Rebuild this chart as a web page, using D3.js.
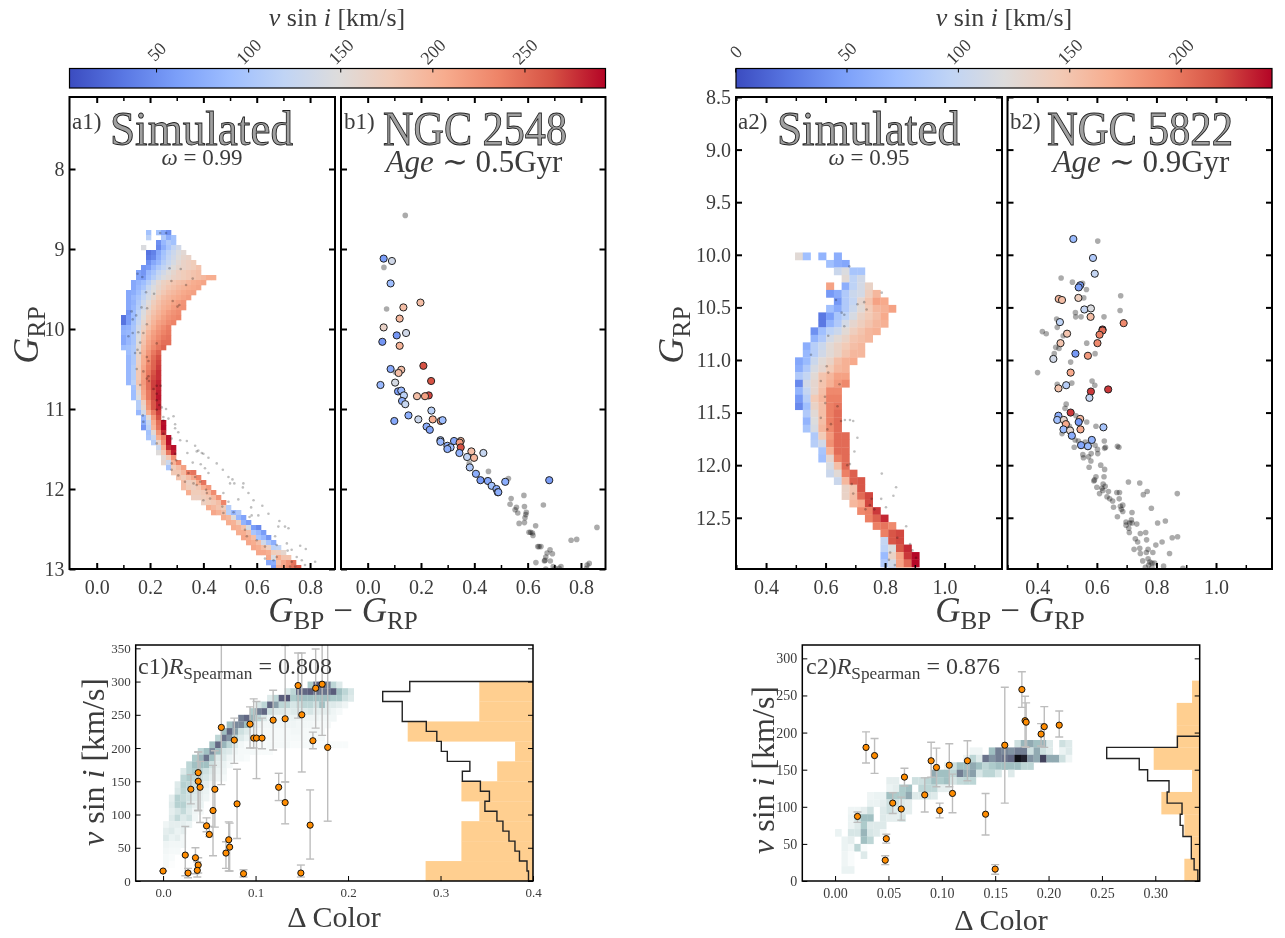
<!DOCTYPE html>
<html>
<head>
<meta charset="utf-8">
<script src="https://cdnjs.cloudflare.com/ajax/libs/d3/7.8.5/d3.min.js"></script>
<style>
  html, body { margin: 0; padding: 0; background: #fff; }
  svg { display: block; }
  text { font-family: "Liberation Serif", serif; fill: #3c3c3c; filter: grayscale(1); }
  .domain { display: none; }
  .tick line { stroke: #000; }
</style>
</head>
<body>
<svg id="chart" width="1285" height="938"></svg>
<script>
// coolwarm colormap samples
var coolwarm = ['#3b4cc0', '#5977e3', '#7b9ff9', '#9ebeff', '#c0d4f5', '#dddcdc', '#f2cbb7', '#f7ac8e', '#ee8468', '#d65244', '#b40426'];
var boneStops = ['#ffffff', '#a6c7c7', '#525273', '#000000'];
var boneDomain = [0, 0.27, 0.8, 1.05];

// a1: simulated CMD grid, [row bin, first colour bin, vsini of each cell]
var a1G0 = 8.7625, a1GStep = 0.0625, a1C0 = 0.0911, a1CStep = 0.01875;
var a1Rows = [
  [0, 5, [95, null, 95, 70, 50]],
  [1, 5, [115, null, null, 105, 75, 95]],
  [2, 7, [50, 85, 105, 95]],
  [3, 4, [145, null, null, 45, 75, 100, 120, 135]],
  [4, 5, [30, 40, 70, 95, 115, 130, 145, 155]],
  [5, 5, [35, 45, 75, 100, 120, 135, 150, 160, 165]],
  [6, 5, [50, 70, 85, 110, 125, 140, 155, 165, 170, 175]],
  [7, 4, [55, 60, 85, 105, 120, 135, 150, 160, 165, 170, 175, 185]],
  [8, 3, [65, 55, 85, 100, 120, 135, 150, 160, 170, 175, 180, 185, 190]],
  [9, 3, [65, 60, 90, 110, 130, 145, 155, 165, 170, 175, 180, 185, 190, 195, 205, 205]],
  [10, 2, [70, 80, 90, 110, 135, 155, 168, 175, 182, 188, 192, 198, 205, 208, 212]],
  [11, 2, [70, 85, 100, 125, 145, 160, 172, 182, 188, 195, 200, 205, 208, 212]],
  [12, 1, [70, 75, 90, 115, 135, 150, 168, 180, 190, 195, 202, 208, 212, 215]],
  [13, 1, [70, 85, 100, 120, 140, 160, 178, 190, 197, 203, 208, 213, 218]],
  [14, 1, [70, 80, 105, 130, 152, 172, 185, 197, 203, 212, 218, 224]],
  [15, 1, [70, 85, 110, 135, 158, 178, 190, 202, 208, 218, 224, 226]],
  [16, 1, [55, 90, 118, 145, 168, 185, 197, 208, 218, 225, 230]],
  [17, 0, [30, 60, 90, 120, 150, 175, 192, 203, 215, 224, 230, 235]],
  [18, 0, [30, 60, 95, 125, 158, 180, 198, 213, 220, 230, 236]],
  [19, 0, [75, 80, 100, 135, 165, 188, 205, 220, 230, 240]],
  [20, 0, [80, 85, 100, 140, 175, 198, 215, 226, 236, 242]],
  [21, 0, [70, 85, 100, 145, 180, 205, 220, 232, 242, 246]],
  [22, 0, [70, 85, 100, 150, 185, 210, 226, 238, 248, 248]],
  [23, 0, [90, 95, 105, 155, 192, 215, 232, 244, 254]],
  [24, 1, [90, 105, 160, 198, 222, 242, 256]],
  [25, 1, [85, 105, 165, 205, 228, 250, 266]],
  [26, 1, [85, 105, 170, 205, 232, 254, 270]],
  [27, 1, [85, 110, 175, 210, 238, 255, 274]],
  [28, 1, [85, 110, 180, 215, 242, 264, 278]],
  [29, 1, [85, 110, 180, 215, 248, 268, 278]],
  [30, 1, [85, 115, 185, 220, 248, 272, 282]],
  [31, 2, [95, 170, 215, 248, 272, 282]],
  [32, 2, [90, 155, 210, 242, 268, 285]],
  [33, 2, [90, 145, 205, 242, 268, 288]],
  [34, 3, [110, 170, 230, 262, 282]],
  [35, 3, [110, 160, 225, 262, 282]],
  [36, 3, [85, 135, 205, 242, 272]],
  [37, 4, [85, 155, 220, 265]],
  [38, 4, [75, 125, 205, 250, 290]],
  [39, 4, [55, 115, 195, 245, 292]],
  [40, 5, [95, 155, 225, 280]],
  [41, 5, [100, 125, 205, 235, 290]],
  [42, 6, [110, 165, 225, 290]],
  [43, 7, [130, 200, 280, 290]],
  [44, 7, [150, 180, 245, 285]],
  [45, 8, [155, 180, 225]],
  [46, 8, [160, 130, 200, 235]],
  [47, 9, [100, 175, 190, 215]],
  [48, 10, [180, 180, 195, 240, 245]],
  [49, 11, [185, 175, 190, 210, 235]],
  [50, 12, [190, 170, 175, 205, 245]],
  [51, 12, [190, 175, 170, 180, 205, 220]],
  [52, 13, [205, 175, 175, 180, 195, 230]],
  [53, 14, [170, 170, 175, 180, 195, 225]],
  [54, 16, [170, 175, 180, 190, 235]],
  [55, 17, [205, 195, 185, 175, 110]],
  [56, 18, [210, 200, 190, 115, 85, 105]],
  [57, 20, [205, 195, 150, 85, 65]],
  [58, 21, [205, 200, 175, 80, 60]],
  [59, 22, [205, 200, 185, 140, 60, 45]],
  [60, 23, [205, 205, 190, 100, 85, 60]],
  [61, 24, [210, 205, 190, 100, 85, 55]],
  [62, 25, [210, 205, 190, 135, 100, 75]],
  [63, 26, [210, 205, 190, 170, 115, 120]],
  [64, 27, [210, 210, 205, 175, 170, 160]],
  [65, 29, [210, 145, 205, 185, 185]],
  [66, 29, [70, 75, 190, 210, 225, 245]],
  [67, 30, [60, 205, 215, 230, 245, 260]]
];

// a2: simulated CMD grid
var a2G0 = 9.978, a2GStep = 0.0712, a2C0 = 0.4974, a2CStep = 0.0261;
var a2Rows = [
  [0, 0, [125, 75, null, 65, null, 60]],
  [1, 4, [75, 60, 55]],
  [2, 5, [105, 118, 80, 80]],
  [3, 6, [125, 95, 110]],
  [4, 4, [175, null, 60, 95, 112, 135]],
  [5, 4, [45, 58, 85, 105, 112, 140, 160]],
  [6, 5, [45, 85, 100, 130, 150, 175, 170]],
  [7, 4, [75, 58, 85, 105, 125, 145, 160, 165, 175]],
  [8, 3, [25, 48, 80, 95, 115, 135, 145, 155, 170]],
  [9, 3, [25, 65, 85, 112, 130, 140, 150, 160, 165]],
  [10, 2, [40, 75, 95, 105, 125, 140, 150, 160, 165]],
  [11, 2, [65, 85, 112, 125, 135, 150, 155, 160]],
  [12, 1, [60, 90, 105, 125, 135, 145, 155, 160]],
  [13, 1, [68, 90, 110, 125, 135, 150, 160, 160]],
  [14, 0, [55, 70, 105, 125, 135, 155, 165, 170]],
  [15, 0, [60, 85, 115, 130, 145, 160, 165]],
  [16, 0, [85, 100, 125, 150, 160, 175, 175]],
  [17, 0, [35, 110, 130, 150, 165, 180, 190]],
  [18, 0, [65, 100, 130, 155, 190, 190]],
  [19, 0, [45, 90, 145, 160, 195, 195]],
  [20, 0, [35, 75, 135, 155, 195, 200]],
  [21, 1, [85, 125, 155, 195, 205]],
  [22, 1, [65, 120, 155, 195, 205]],
  [23, 1, [80, 115, 160, 190, 205]],
  [24, 2, [85, 145, 180, 205, 205]],
  [25, 2, [90, 110, 185, 205, 205]],
  [26, 3, [80, 165, 205, 205]],
  [27, 3, [75, 130, 195, 205]],
  [28, 4, [115, 155, 205]],
  [29, 4, [105, 125, 195, 210]],
  [30, 5, [105, 160, 210, 215]],
  [31, 6, [135, 150, 215]],
  [32, 6, [135, 155, 205, 220]],
  [33, 7, [160, 170, 220]],
  [34, 8, [190, 195, 225]],
  [35, 9, [195, 210, 230]],
  [36, 10, [195, 200, 190]],
  [37, 11, [195, 215, 220]],
  [38, 11, [100, 215, 220]],
  [39, 11, [95, 120, 215, 230]],
  [40, 11, [70, 135, 175, 225, 240]],
  [41, 11, [85, 110, 175, 205, 240]],
  [42, 12, [100, 150, 155]]
];

// small dark points laid over the simulated grids
var a1Stars = [[.238,8.80],[.26,8.80],[.273,9.24],[.315,9.25],[.153,9.31],[.171,9.35],[.36,9.37],[.28,9.40],[.335,9.45],[.185,9.54],[.215,9.56],[.285,9.65],[.303,9.72],[.31,9.70],[.168,9.73],[.189,9.74],[.131,9.78],[.148,9.83],[.135,9.88],
  [.188,9.94],[.156,10.04],[.135,10.05],[.119,10.09],[.175,10.05],[.163,10.17],[.225,10.18],[.153,10.26],[.144,10.30],[.163,10.30],[.188,10.35],[.194,10.40],[.175,10.53],[.15,10.50],[.194,10.59],[.188,10.62],[.196,10.65],[.225,10.71],[.24,10.71],[.163,10.70],[.213,10.75],[.225,10.81],[.225,10.89],[.235,10.95],[.225,11.01],[.244,10.98],[.26,11.00],[.173,11.08],[.25,11.10],[.269,11.12],[.288,11.09],[.25,11.14],[.294,11.19],[.175,11.16],[.294,11.24],[.25,11.31],[.306,11.29],[.281,11.37],[.313,11.39],[.338,11.40],[.225,11.43],[.369,11.46],[.375,11.53],[.40,11.56],[.381,11.52],[.394,11.55],[.34,11.55],[.294,11.56],[.298,11.64],[.419,11.61],[.39,11.69],[.36,11.67],[.406,11.74],[.45,11.68],[.419,11.80],[.473,11.76],[.494,11.85],[.509,11.88],[.50,11.93],[.516,11.93],[.55,11.93],[.548,11.98],[.569,12.05],[.344,11.80],[.369,11.85],[.388,11.91],[.375,11.95],[.41,12.01],[.425,12.12],[.475,12.05],[.471,12.22],[.494,12.16],[.588,12.14],[.621,12.21],[.531,12.13],[.475,12.30],[.513,12.29],[.579,12.23],[.644,12.31],[.573,12.35],[.606,12.33],[.581,12.33],[.685,12.40],[.706,12.47],[.719,12.49],[.681,12.47],[.669,12.59],[.556,12.51],[.563,12.59],[.60,12.64],[.713,12.68],[.675,12.70],[.631,12.72],[.763,12.71],[.784,12.75],[.716,12.77],[.731,12.76],[.675,12.85],[.663,12.89],[.819,12.91],[.75,12.85],[.769,12.89],[.731,12.91],[.781,12.95],[.631,12.87],[.725,12.97],[.744,12.97],[.306,11.83],[.331,11.91],[.363,11.93],[.281,11.76],[.281,11.68],[.40,12.14],[.413,12.05]];
var a2Stars = [[.68,10.11],[.789,10.36],[.635,10.43],[.73,10.45],[.707,10.47],[.738,10.52],[.654,10.55],[.663,10.57],[.663,10.68],[.609,10.77],[.551,10.95],[.604,11.06],[.609,11.12],[.584,11.20],[.647,11.23],[.598,11.35],[.599,11.41],[.64,11.44],[.584,11.55],[.652,11.58],[.665,11.57],[.682,11.57],[.693,11.58],[.618,11.61],[.606,11.66],[.707,11.74],[.697,11.87],[.682,11.99],[.673,12.0],[.789,12.08],[.688,12.18],[.837,12.21],[.693,12.27],[.828,12.29],[.755,12.32],[.787,12.32],[.749,12.38],[.803,12.40],[.734,12.42],[.764,12.42],[.871,12.58],[.841,12.69],[.884,12.75],[.892,12.81],[.817,12.83],[.904,12.88],[.813,12.90],[.833,12.95]];

// b1: NGC 2548 members, [colour, G, vsini]
var b1Measured = [[.06,9.12,60],[.091,9.15,135],[.086,9.43,90],[.198,9.67,190],[.134,9.73,190],[.12,9.87,195],[.06,9.98,165],[.144,10.05,135],[.109,10.08,55],[.055,10.16,55],[.12,10.21,200],[.209,10.46,265],[.086,10.50,70],[.126,10.51,190],[.116,10.55,190],[.238,10.65,265],[.048,10.70,85],[.103,10.67,140],[.114,10.78,60],[.126,10.77,85],[.136,10.83,115],[.185,10.84,190],[.229,10.83,270],[.215,10.84,215],[.129,10.90,75],[.141,10.94,125],[.239,11.02,115],[.153,11.08,75],[.19,11.13,130],[.244,11.13,205],[.274,11.15,220],[.281,11.14,90],[.10,11.15,70],[.221,11.22,75],[.233,11.26,65],[.273,11.39,100],[.273,11.41,85],[.299,11.46,80],[.349,11.40,200],[.324,11.40,70],[.345,11.42,220],[.311,11.48,90],[.299,11.50,75],[.349,11.48,265],[.344,11.55,80],[.389,11.53,190],[.399,11.61,195],[.373,11.60,120],[.434,11.55,125],[.383,11.73,105],[.406,11.81,75],[.423,11.89,60],[.451,11.90,70],[.516,11.91,75],[.681,11.89,60],[.465,11.96,95],[.483,12.00,75],[.488,12.04,90],[.49,12.04,75]];
var b1Members = [[.141,8.58],[.061,9.23],[.071,9.75],[.104,10.54],[.453,11.78],[.446,11.89],[.528,11.87],[.381,11.68],[.586,12.08],[.538,12.12],[.534,12.19],[.588,12.22],[.558,12.23],[.659,12.20],[.553,12.26],[.563,12.30],[.595,12.29],[.593,12.32],[.59,12.36],[.588,12.42],[.568,12.43],[.63,12.46],[.605,12.54],[.611,12.54],[.618,12.55],[.62,12.58],[.638,12.72],[.643,12.72],[.65,12.72],[.763,12.64],[.784,12.63],[.86,12.48],[.684,12.76],[.673,12.80],[.693,12.81],[.668,12.85],[.665,12.89],[.663,12.90],[.685,12.90],[.631,12.92],[.831,12.93],[.823,12.95],[.725,12.97],[.696,12.97],[.703,12.99],[.668,13.0],[.718,12.99],[.821,12.99]];

// b2: NGC 5822 members
var b2Measured = [[.521,9.85,70],[.587,10.03,85],[.593,10.18,100],[.544,10.29,45],[.539,10.31,50],[.472,10.42,160],[.483,10.43,155],[.538,10.41,140],[.558,10.52,100],[.58,10.51,118],[.579,10.59,155],[.476,10.64,95],[.69,10.65,190],[.619,10.71,235],[.619,10.72,205],[.609,10.76,195],[.50,10.75,150],[.478,10.84,150],[.602,10.84,190],[.528,10.94,45],[.57,10.96,180],[.454,10.99,110],[.512,11.12,170],[.497,11.24,90],[.471,11.27,150],[.638,11.28,225],[.58,11.30,225],[.575,11.36,100],[.512,11.50,225],[.471,11.53,60],[.467,11.57,75],[.489,11.57,130],[.544,11.56,160],[.539,11.59,45],[.496,11.61,170],[.622,11.64,80],[.488,11.66,70],[.51,11.67,130],[.545,11.66,170],[.516,11.72,60],[.583,11.76,65],[.547,11.81,55],[.57,11.82,70]];
var b2Members = [[.603,9.87],[.48,10.22],[.518,10.26],[.552,10.27],[.565,10.33],[.556,10.41],[.68,10.39],[.678,10.53],[.528,10.55],[.529,10.59],[.547,10.59],[.624,10.59],[.465,10.61],[.467,10.69],[.417,10.73],[.43,10.75],[.487,10.77],[.566,10.84],[.462,10.88],[.473,10.89],[.457,10.94],[.594,10.94],[.512,11.02],[.401,11.12],[.584,11.20],[.593,11.24],[.467,11.23],[.516,11.22],[.497,11.42],[.493,11.46],[.53,11.53],[.566,11.59],[.597,11.63],[.508,11.63],[.483,11.70],[.527,11.76],[.538,11.77],[.625,11.77],[.561,11.78],[.594,11.81],[.524,11.83],[.602,11.85],[.626,11.84],[.629,11.83],[.669,11.82],[.674,11.83],[.603,11.89],[.581,11.89],[.553,11.90],[.572,11.92],[.555,11.93],[.58,11.96],[.613,12.0],[.626,12.04],[.574,12.02],[.624,12.11],[.597,12.11],[.59,12.15],[.592,12.14],[.706,12.16],[.744,12.17],[.621,12.18],[.60,12.21],[.617,12.22],[.628,12.20],[.609,12.27],[.62,12.24],[.639,12.25],[.667,12.26],[.676,12.26],[.769,12.25],[.756,12.28],[.87,12.27],[.634,12.30],[.643,12.32],[.653,12.34],[.675,12.32],[.656,12.40],[.679,12.39],[.687,12.38],[.783,12.41],[.682,12.42],[.687,12.44],[.718,12.45],[.669,12.49],[.698,12.54],[.716,12.52],[.71,12.55],[.734,12.56],[.698,12.57],[.718,12.55],[.83,12.53],[.804,12.55],[.707,12.60],[.709,12.64],[.746,12.65],[.764,12.64],[.871,12.68],[.853,12.69],[.729,12.70],[.737,12.73],[.767,12.71],[.819,12.73],[.798,12.76],[.725,12.80],[.744,12.79],[.772,12.80],[.766,12.83],[.788,12.83],[.746,12.84],[.844,12.84],[.754,12.91],[.772,12.89],[.778,12.92],[.785,12.93],[.794,12.93],[.774,12.95],[.824,12.96],[.889,12.98],[.763,12.97],[.785,12.97]];

// c1: density of simulated stars, [vsini bin, first colour bin, density]
var c1CStep = 0.00625, c1VStep = 10;
var c1Density = [
  [290, 25, [.25, .75, .8, .6, .2, .1]],
  [280, 21, [.12, .2, .7, .7, .75, .65, .65, .65, .75, .3, .2, .12]],
  [270, 18, [.1, .2, .75, .8, .25, .3, .3, .3, .3, .3, .3, .25, .25, .15, .1]],
  [260, 16, [.12, .2, .7, .45, .2, .2, .12, .15, .2, .2, .15, .3, .1, .1, .08, .05]],
  [250, 15, [.25, .6, .7, .15, .1, .1, .08, .1, .1, .1, .12, .08, .08, .08, .05, .03]],
  [240, 13, [.6, .7, .35, .2, .1, .05, .05, .05, .06, .06, .05, .05, .05, .05, .04, .04, .04]],
  [230, 11, [.3, .55, .55, .3, .1, .05, .04, .04, .04, .04, .05, .05, .04, .04, .04, .03, .03, .03]],
  [220, 10, [.3, .7, .45, .15, .1, .05, .03, .03, .03, .03, .03, .03, .04, .04, .03, .03, .03, .03]],
  [210, 9, [.2, .65, .5, .2, .1, .06, .03, .03, .03, .03, .03, .03, .03, .03, .03, .03, .03, .03, .03]],
  [200, 8, [.3, .7, .35, .2, .1, .04, .02, .02, .02, .02, .03, .03, .03, .03, .02, .02, .03, .03, .02, .02, .02, .02, .02, .02]],
  [190, 6, [.2, .3, .55, .3, .12, .1, .05, .03, .03, .03, .02, .02, .02]],
  [180, 5, [.25, .35, .65, .3, .1, .1, .05, .03, .03, .02]],
  [170, 4, [.2, .3, .3, .3, .15, .08, .06, .03]],
  [160, 3, [.1, .2, .25, .2, .15, .1, .06, .05]],
  [150, 3, [.2, .25, .2, .15, .12, .08, .05, .03]],
  [140, 2, [.1, .22, .2, .15, .12, .08, .04]],
  [130, 2, [.12, .2, .15, .12, .08, .06]],
  [120, 1, [.08, .22, .18, .15, .1, .07, .05]],
  [110, 1, [.1, .22, .22, .12, .08, .06]],
  [100, 1, [.08, .12, .18, .1, .05, .03]],
  [90, 1, [.1, .18, .1, .14, .04]],
  [80, 0, [.05, .08, .08, .08, .06]],
  [70, 0, [.08, .1, .06, .08]],
  [60, 0, [.1, .06, .08, .04]],
  [50, 0, [.05, .04, .04, .04]],
  [40, 0, [.04, .03, .03]],
  [30, 0, [.03, .02]],
  [20, 0, [.03, .01]]
];

// c2: density of simulated stars
var c2CStep = 0.006, c2VStep = 10;
var c2Density = [
  [180, 28, [.15, .35, .4, .3, .35, .1, null, .15, .1]],
  [170, 21, [.05, .05, null, .3, .6, .55, .5, .6, .6, .15, .4, .15, .1, null, .06, .1]],
  [160, 20, [.05, .2, .1, .65, .5, .6, .65, .7, 1, .95, .5, .4, .85, .4, .4, .15, .05]],
  [150, 17, [.06, .15, .3, .3, .4, .3, .2, .25, .3, .3, .3, .3, .2, .2]],
  [140, 15, [.4, .3, .3, .2, .6, .4, .45, .12, .2, .2, .12, null, .1]],
  [130, 8, [.08, .08, null, null, .15, .15, .2, .3, .25, .3, .12, .18, .2, .2]],
  [120, 8, [.06, .08, .25, .3, null, .2, .2, .2, .08, .08]],
  [110, 5, [.05, .06, .06, .3, .25, .25, .4, .1, .1, .12, .1]],
  [100, 5, [.06, .06, .08, .15, .15, .1, .08]],
  [90, 2, [.05, .05, .08, .15, null, .1, .15, .1, .1, .08]],
  [80, 2, [.06, .15, .3, .3, null, .1, .08, .08, .12]],
  [70, 2, [.06, .1, .25, .1, .1, .1]],
  [60, 0, [.06, null, .12, .12, .35, .12, .1, .04]],
  [50, 1, [.06, .08, null, .3, .2]],
  [40, 1, [.06, .04, .2, .02]],
  [30, 1, [.05, .02, null, .1]],
  [20, 1, [.05, .02]],
  [10, 1, [.06, .06]]
];

// c panels: observed stars, [colour, vsini, upper, lower]
var c1Stars = [[0,15,15,15],[.024,39,82,8],[.027,12,19,5],[.030,138,160,116],[.035,35,50,11],[.038,24,35,12],[.037,16,29,6],[.038,163,194,106],[.038,150,194,106],[.040,141,180,88],[.047,83,95,74],[.050,70,82,67],[.054,106,174,38],[.056,138,196,81],[.063,231,356,145],[.068,42,59,19],[.071,62,89,15],[.072,51,87,15],[.077,212,245,177],[.080,116,168,64],[.087,11,17,6],[.094,236,262,200],[.098,215,274,200],[.101,215,270,154],[.107,215,245,199],[.119,242,287,197],[.125,141,162,121],[.132,244,354,149],[.132,118,149,86],[.146,294,343,245],[.150,250,343,164],[.159,84,137,33],[.149,12,24,6],[.162,211,224,199],[.165,290,349,230],[.172,296,356,219],[.178,201,356,90]];
var c2Stars = [[.021,87,93,79],[.029,180,201,159],[.037,169,192,145],[.048,57,63,51],[.047,28,34,22],[.054,105,119,91],[.062,97,113,82],[.065,140,152,128],[.084,116,139,93],[.090,162,187,140],[.095,153,179,127],[.098,95,105,85],[.107,156,185,127],[.110,118,144,92],[.124,162,189,135],[.141,90,118,62],[.150,16,22,9],[.159,183,261,105],[.175,258,282,234],[.178,216,249,181],[.179,214,240,180],[.193,198,212,182],[.196,208,235,180],[.210,210,229,194]];

// side histograms, lowest bin first
var c1ObsHist = [6, 4, 4, 3, 4, 2, 1, 7, 3, 3];
var c1SimHist = [3, 4, 9, 12, 16, 20, 24, 32, 29, 35, 47, 42, 57, 61, 64, 71, 87, 87, 100, 82];
var c2ObsHist = [2, 1, 2, 5, 1, 6, 3, 3, 1];
var c2SimHist = [2, 6, 9, 9, 18, 21, 19, 35, 33, 56, 65, 100, 24];

// tick lists
var a1ColorTicks = [0, 0.2, 0.4, 0.6, 0.8], a1ColorMinor = [0.1, 0.3, 0.5, 0.7];
var a2ColorTicks = [0.4, 0.6, 0.8, 1.0], a2ColorMinor = [0.3, 0.5, 0.7, 0.9, 1.1];
var a1GTicks = [8, 9, 10, 11, 12, 13];
var a2GTicks = [8.5, 9, 9.5, 10, 10.5, 11, 11.5, 12, 12.5];
var cbar1Ticks = [50, 100, 150, 200, 250];
var cbar2Ticks = [0, 50, 100, 150, 200];
var c1VTicks = [0, 50, 100, 150, 200, 250, 300, 350];
var c2VTicks = [0, 50, 100, 150, 200, 250, 300];
var c1CTicks = [0, 0.1, 0.2, 0.3, 0.4];
var c2CTicks = [0, 0.05, 0.1, 0.15, 0.2, 0.25, 0.3];

var svg = d3.select('#chart');
var defs = svg.append('defs');
var clipCount = 0;

var coolwarmT = d3.scaleLinear()
  .domain(d3.range(11).map(function(i) { return i / 10; }))
  .range(coolwarm);
var boneR = d3.scaleLinear().domain(boneDomain).range(boneStops);

function vColor(domain) {
  return function(v) { return coolwarmT((v - domain[0]) / (domain[1] - domain[0])); };
}

function clipFor(x0, y0, w, h) {
  var id = 'clip' + (clipCount++);
  defs.append('clipPath').attr('id', id).append('rect')
    .attr('x', x0).attr('y', y0).attr('width', w).attr('height', h);
  return 'url(#' + id + ')';
}

// text with italic and subscript runs: parts are [string, 'r' | 'i' | 's']
function mathText(x, y, size, parts, rotate, anchor) {
  var t = svg.append('text')
    .attr('transform', 'translate(' + x + ',' + y + ')' + (rotate ? ' rotate(-90)' : ''))
    .attr('text-anchor', anchor || 'middle')
    .style('font-size', size + 'px');
  var low = false;
  parts.forEach(function(p) {
    var s = t.append('tspan').text(p[0]);
    if (p[1] === 'i') s.style('font-style', 'italic');
    if (p[1] === 's') {
      s.style('font-size', (size * 0.72) + 'px');
      if (!low) s.attr('dy', size * 0.2);
      low = true;
    } else if (low) {
      s.attr('dy', -size * 0.2);
      low = false;
    }
  });
  return t;
}

function bigTitle(text, x0, x1, y) {
  svg.append('text')
    .attr('x', x0).attr('y', y)
    .attr('textLength', x1 - x0).attr('lengthAdjust', 'spacingAndGlyphs')
    .style('font-size', '48px')
    .style('fill', '#a0a0a0').style('stroke', '#222').style('stroke-width', 0.9)
    .text(text);
}

function ticksOn(g, axis, tx, ty, size, width) {
  var a = g.append('g').attr('transform', 'translate(' + tx + ',' + ty + ')').call(axis);
  a.selectAll('.tick line').attr('stroke-width', width);
  a.selectAll('.tick text').style('font-size', size + 'px').style('font-family', '"Liberation Serif", serif').style('fill', '#3c3c3c');
  return a;
}

// one CMD panel frame with its ticks
function cmdAxes(box, x, y, xTicks, xMinor, yTicks, yFormat, showY) {
  var g = svg.append('g');
  var none = function() { return ''; };
  var f1 = d3.format('.1f');
  ticksOn(g, d3.axisBottom(x).tickValues(xTicks).tickSize(-6).tickPadding(11).tickFormat(f1), 0, box.y1, 20, 2);
  ticksOn(g, d3.axisBottom(x).tickValues(xMinor).tickSize(-4).tickFormat(none), 0, box.y1, 20, 1.5);
  ticksOn(g, d3.axisTop(x).tickValues(xTicks).tickSize(-6).tickFormat(none), 0, box.y0, 20, 2);
  ticksOn(g, d3.axisTop(x).tickValues(xMinor).tickSize(-4).tickFormat(none), 0, box.y0, 20, 1.5);
  ticksOn(g, d3.axisLeft(y).tickValues(yTicks).tickSize(-6).tickPadding(5).tickFormat(showY ? yFormat : none), box.x0, 0, 20, 2);
  ticksOn(g, d3.axisRight(y).tickValues(yTicks).tickSize(-6).tickFormat(none), box.x1, 0, 20, 2);
  g.append('rect')
    .attr('x', box.x0).attr('y', box.y0)
    .attr('width', box.x1 - box.x0).attr('height', box.y1 - box.y0)
    .attr('fill', 'none').attr('stroke', '#000').attr('stroke-width', 2);
}

function simPanel(box, x, y, rows, c0, cStep, g0, gStep, stars, color, xTicks, xMinor, yTicks, yFormat) {
  var g = svg.append('g').attr('clip-path', clipFor(box.x0, box.y0, box.x1 - box.x0, box.y1 - box.y0));
  var cells = [];
  rows.forEach(function(r) {
    r[2].forEach(function(v, i) {
      if (v !== null) cells.push({ c: c0 + (r[1] + i) * cStep, g: g0 + r[0] * gStep, v: v });
    });
  });
  g.selectAll('rect').data(cells).enter().append('rect')
    .attr('x', function(d) { return x(d.c); })
    .attr('y', function(d) { return y(d.g); })
    .attr('width', x(cStep) - x(0) + 0.3)
    .attr('height', y(gStep) - y(0) + 0.3)
    .attr('fill', function(d) { return color(d.v); });
  g.selectAll('circle').data(stars).enter().append('circle')
    .attr('cx', function(d) { return x(d[0]); })
    .attr('cy', function(d) { return y(d[1]); })
    .attr('r', 1.3)
    .attr('fill', 'rgba(0,0,0,0.25)');
  cmdAxes(box, x, y, xTicks, xMinor, yTicks, yFormat, true);
}

function obsPanel(box, x, y, members, measured, color, xTicks, xMinor, yTicks) {
  var g = svg.append('g').attr('clip-path', clipFor(box.x0, box.y0, box.x1 - box.x0, box.y1 - box.y0));
  g.selectAll('circle.m').data(members).enter().append('circle')
    .attr('class', 'm')
    .attr('cx', function(d) { return x(d[0]); })
    .attr('cy', function(d) { return y(d[1]); })
    .attr('r', 2.8)
    .attr('fill', 'rgba(0,0,0,0.33)');
  g.selectAll('circle.o').data(measured).enter().append('circle')
    .attr('class', 'o')
    .attr('cx', function(d) { return x(d[0]); })
    .attr('cy', function(d) { return y(d[1]); })
    .attr('r', 3.6)
    .attr('fill', function(d) { return color(d[2]); })
    .attr('stroke', '#222').attr('stroke-width', 1);
  cmdAxes(box, x, y, xTicks, xMinor, yTicks, null, false);
}

function colorbar(x0, x1, domain, ticks, id) {
  var grad = defs.append('linearGradient').attr('id', id);
  coolwarm.forEach(function(c, i) {
    grad.append('stop').attr('offset', (i * 10) + '%').attr('stop-color', c);
  });
  var scale = d3.scaleLinear().domain(domain).range([x0, x1]);
  svg.append('rect')
    .attr('x', x0).attr('y', 68.5).attr('width', x1 - x0).attr('height', 19.5)
    .attr('fill', 'url(#' + id + ')').attr('stroke', '#000').attr('stroke-width', 1.2);
  var a = ticksOn(svg, d3.axisTop(scale).tickValues(ticks).tickSize(-4), 0, 68.5, 18, 1);
  a.selectAll('.tick line').attr('stroke', '#333');
  a.selectAll('.tick text')
    .attr('y', 0).attr('dy', '.35em').attr('text-anchor', 'middle')
    .attr('transform', 'translate(0,-17) rotate(-45)');
}

function correlationPanel(box, x, y, density, cStep, vStep, stars, ticksX, ticksY, fmtX, obsHist, obsPx, simHist, simPx, tickSize) {
  var clip = clipFor(box.x0, box.y0, box.x1 - box.x0, box.y1 - box.y0);
  var g = svg.append('g').attr('clip-path', clip);

  // observed histogram sits behind the simulated outline
  var obsX = d3.scaleLinear().domain([0, 1]).range([box.x1, box.x1 - obsPx]);
  g.selectAll('rect.h').data(obsHist).enter().append('rect')
    .attr('class', 'h')
    .attr('x', function(d) { return obsX(d); })
    .attr('y', function(d, i) { return y((i + 1) * 30); })
    .attr('width', function(d) { return box.x1 - obsX(d); })
    .attr('height', y(0) - y(30) + 0.2)
    .attr('fill', '#ffcf90');

  var cells = [];
  density.forEach(function(r) {
    r[2].forEach(function(d, i) {
      if (d !== null) cells.push({ c: (r[1] + i) * cStep, v: r[0], d: d });
    });
  });
  g.selectAll('rect.c').data(cells).enter().append('rect')
    .attr('class', 'c')
    .attr('x', function(d) { return x(d.c); })
    .attr('y', function(d) { return y(d.v + vStep); })
    .attr('width', x(cStep) - x(0) + 0.2)
    .attr('height', y(0) - y(vStep) + 0.2)
    .attr('fill', function(d) { return boneR(d.d); });

  var simX = d3.scaleLinear().domain([0, 100]).range([box.x1, box.x1 - simPx]);
  var outline = [[0, 0]];
  simHist.forEach(function(n, i) {
    outline.push([n, i * 15]);
    outline.push([n, (i + 1) * 15]);
  });
  outline.push([0, simHist.length * 15]);
  g.append('path')
    .attr('d', d3.line().x(function(d) { return simX(d[0]); }).y(function(d) { return y(d[1]); })(outline))
    .attr('fill', 'none').attr('stroke', '#222').attr('stroke-width', 1.4);

  var bars = g.selectAll('g.e').data(stars).enter().append('g').attr('class', 'e')
    .attr('stroke', '#bdbdbd').attr('stroke-width', 1.4);
  bars.append('line')
    .attr('x1', function(d) { return x(d[0]); }).attr('x2', function(d) { return x(d[0]); })
    .attr('y1', function(d) { return y(d[2]); }).attr('y2', function(d) { return y(d[3]); });
  bars.append('line')
    .attr('x1', function(d) { return x(d[0]) - 4; }).attr('x2', function(d) { return x(d[0]) + 4; })
    .attr('y1', function(d) { return y(d[2]); }).attr('y2', function(d) { return y(d[2]); });
  bars.append('line')
    .attr('x1', function(d) { return x(d[0]) - 4; }).attr('x2', function(d) { return x(d[0]) + 4; })
    .attr('y1', function(d) { return y(d[3]); }).attr('y2', function(d) { return y(d[3]); });
  g.selectAll('circle').data(stars).enter().append('circle')
    .attr('cx', function(d) { return x(d[0]); })
    .attr('cy', function(d) { return y(d[1]); })
    .attr('r', 3.1)
    .attr('fill', '#ff8c00').attr('stroke', '#111').attr('stroke-width', 1);

  var none = function() { return ''; };
  ticksOn(svg, d3.axisBottom(x).tickValues(ticksX).tickSize(-5).tickPadding(7).tickFormat(fmtX), 0, box.y1, tickSize, 1);
  ticksOn(svg, d3.axisLeft(y).tickValues(ticksY).tickSize(-5).tickPadding(5).tickFormat(d3.format('d')), box.x0, 0, tickSize, 1);
  ticksOn(svg, d3.axisRight(y).tickValues(ticksY).tickSize(-5).tickFormat(none), box.x1, 0, tickSize, 1);
  svg.append('rect')
    .attr('x', box.x0).attr('y', box.y0)
    .attr('width', box.x1 - box.x0).attr('height', box.y1 - box.y0)
    .attr('fill', 'none').attr('stroke', '#000').attr('stroke-width', 1.5);
}

var gLinear = function(dom, box) { return d3.scaleLinear().domain(dom).range([box.y0, box.y1]); };
var cLinear = function(dom, box) { return d3.scaleLinear().domain(dom).range([box.x0, box.x1]); };

// left block
var cb1Domain = [3, 294];
var cb2Domain = [0.4, 241];
var color1 = vColor(cb1Domain);
var color2 = vColor(cb2Domain);
colorbar(69.5, 605.5, cb1Domain, cbar1Ticks, 'cb1');
colorbar(736, 1272, cb2Domain, cbar2Ticks, 'cb2');

var vsiniParts = [['v', 'i'], [' sin ', 'r'], ['i', 'i'], [' [km/s]', 'r']];
mathText(337, 26, 26, vsiniParts);
mathText(1004, 26, 26, vsiniParts);

var boxA1 = { x0: 69.5, x1: 335, y0: 97, y1: 569 };
var boxB1 = { x0: 341, x1: 605.5, y0: 97, y1: 569 };
var boxA2 = { x0: 736, x1: 1002, y0: 97, y1: 569 };
var boxB2 = { x0: 1007.5, x1: 1272, y0: 97, y1: 569 };

var gDomain1 = [7.1, 13], gDomain2 = [8.5, 12.987];
var gy1 = gLinear(gDomain1, boxA1), gy2 = gLinear(gDomain2, boxA2);

simPanel(boxA1, cLinear([-0.102, 0.8935], boxA1), gy1, a1Rows, a1C0, a1CStep, a1G0, a1GStep, a1Stars, color1,
  a1ColorTicks, a1ColorMinor, a1GTicks, d3.format('d'));
obsPanel(boxB1, cLinear([-0.1, 0.892], boxB1), gy1, b1Members, b1Measured, color1, a1ColorTicks, a1ColorMinor, a1GTicks);
simPanel(boxA2, cLinear([0.299, 1.193], boxA2), gy2, a2Rows, a2C0, a2CStep, a2G0, a2GStep, a2Stars, color2,
  a2ColorTicks, a2ColorMinor, a2GTicks, d3.format('.1f'));
obsPanel(boxB2, cLinear([0.3, 1.188], boxB2), gy2, b2Members, b2Measured, color2, a2ColorTicks, a2ColorMinor, a2GTicks);

// panel titles
bigTitle('Simulated', 110, 293, 145);
bigTitle('NGC 2548', 383, 567, 145);
bigTitle('Simulated', 777, 960, 145);
bigTitle('NGC 5822', 1047, 1233, 145);
mathText(72, 129, 23, [['a1)', 'r']], false, 'start');
mathText(344, 129, 23, [['b1)', 'r']], false, 'start');
mathText(738, 129, 23, [['a2)', 'r']], false, 'start');
mathText(1010, 129, 23, [['b2)', 'r']], false, 'start');
mathText(202, 165, 23, [['\u03c9', 'i'], [' = 0.99', 'r']]);
mathText(869, 165, 23, [['\u03c9', 'i'], [' = 0.95', 'r']]);
mathText(474, 172, 31, [['Age', 'i'], [' \u223c 0.5Gyr', 'r']]);
mathText(1141, 172, 31, [['Age', 'i'], [' \u223c 0.9Gyr', 'r']]);

var cmdX = [['G', 'i'], ['BP', 's'], [' \u2212 ', 'r'], ['G', 'i'], ['RP', 's']];
mathText(343, 622, 35, cmdX);
mathText(1010, 622, 35, cmdX);
var cmdY = [['G', 'i'], ['RP', 's']];
mathText(38, 335, 36, cmdY, true);
mathText(683, 335, 36, cmdY, true);

// bottom row
var boxC1 = { x0: 135.7, x1: 533, y0: 645, y1: 881 };
var boxC2 = { x0: 802.3, x1: 1199.7, y0: 645, y1: 881 };
correlationPanel(boxC1, cLinear([-0.0296, 0.4], boxC1), d3.scaleLinear().domain([355, 0]).range([645, 881]),
  c1Density, c1CStep, c1VStep, c1Stars, c1CTicks, c1VTicks, d3.format('.1f'), c1ObsHist, 17.9, c1SimHist, 150.3, 13);
correlationPanel(boxC2, cLinear([-0.0307, 0.3416], boxC2), d3.scaleLinear().domain([318, 0]).range([645, 881]),
  c2Density, c2CStep, c2VStep, c2Stars, c2CTicks, c2VTicks, d3.format('.2f'), c2ObsHist, 7.67, c2SimHist, 93, 14);

var spearman1 = [['c1)', 'r'], ['R', 'i'], ['Spearman', 's'], [' = 0.808', 'r']];
var spearman2 = [['c2)', 'r'], ['R', 'i'], ['Spearman', 's'], [' = 0.876', 'r']];
mathText(138, 674, 24, spearman1, false, 'start');
mathText(806, 674, 24, spearman2, false, 'start');
mathText(104, 762, 32, vsiniParts, true);
mathText(774, 770, 32, vsiniParts, true);
mathText(334, 927, 30, [['\u0394 Color', 'r']]);
mathText(1001, 930, 30, [['\u0394 Color', 'r']]);
</script>
</body>
</html>
